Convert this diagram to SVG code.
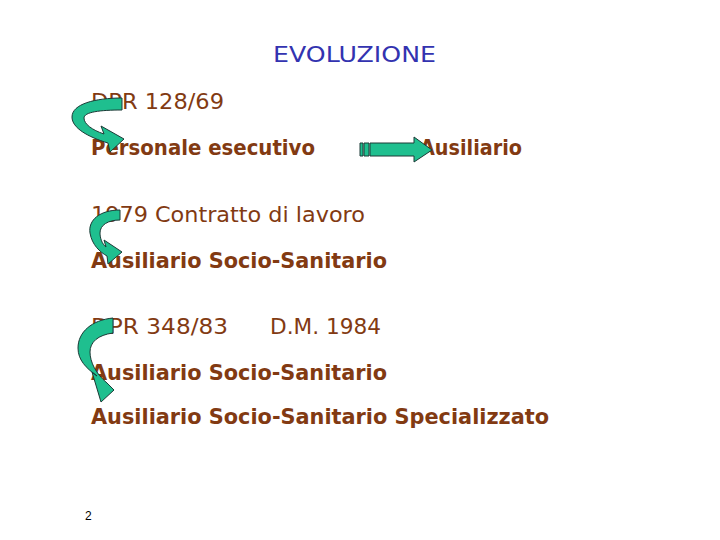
<svg xmlns="http://www.w3.org/2000/svg" width="720" height="540" viewBox="0 0 720 540">
<style>
.t{font-family:"Comic Sans MS","DejaVu Sans",sans-serif;font-size:21px;fill:#823a12}
.b{font-weight:bold}
.h{font-family:"Comic Sans MS","DejaVu Sans",sans-serif;font-size:21px;fill:#3333b0}
.arr{fill:#1fbf8f;stroke:#1c3a36;stroke-width:1}
</style>
<rect width="720" height="540" fill="#fff"/>
<g id="title"><text class="h" x="273" y="62" textLength="163" lengthAdjust="spacingAndGlyphs">EVOLUZIONE</text></g>
<g id="n1"><text class="t" x="91" y="109" textLength="133" lengthAdjust="spacingAndGlyphs">DPR 128/69</text></g>
<g id="n2"><text class="t b" x="91" y="155" textLength="224" lengthAdjust="spacingAndGlyphs">Personale esecutivo</text></g>
<g id="n3"><text class="t b" x="420" y="155" textLength="102" lengthAdjust="spacingAndGlyphs">Ausiliario</text></g>
<g id="n4"><text class="t" x="91" y="222" textLength="274" lengthAdjust="spacingAndGlyphs">1979 Contratto di lavoro</text></g>
<g id="n5"><text class="t b" x="91" y="268" textLength="296" lengthAdjust="spacingAndGlyphs">Ausiliario Socio-Sanitario</text></g>
<g id="n6"><text class="t" x="91" y="334" textLength="137" lengthAdjust="spacingAndGlyphs">DPR 348/83</text><text class="t" x="270" y="334" textLength="111" lengthAdjust="spacingAndGlyphs">D.M. 1984</text></g>
<g id="n7"><text class="t b" x="91" y="380" textLength="296" lengthAdjust="spacingAndGlyphs">Ausiliario Socio-Sanitario</text></g>
<g id="n8"><text class="t b" x="91" y="424" textLength="458" lengthAdjust="spacingAndGlyphs">Ausiliario Socio-Sanitario Specializzato</text></g>
<g id="page"><text x="85" y="520" font-family="Liberation Sans, sans-serif" font-size="12" fill="#000">2</text></g>
<g id="connectors">
<path class="arr" d="M122,98 C95,98 72,104 72,117 C72,128 88,137 108,143 L110,152 L124,139 L101,126 L104,134 C92,130 84,124 84,118 C84,112 100,110 122,110 Z"/>
<path class="arr" d="M360,143 h3 v13 h-3 Z M364,143 h5 v13 h-5 Z M370,143 H414 V137 L432,150 L414,162 V156 H370 Z"/>
<path class="arr" d="M120,210 C100,210 88,220 90,233 C92,245 100,252 107,256 L108,264 L122,252 L104,240 L106,247 C102,244 100,238 100,233 C100,225 108,220 120,220 Z"/>
<path class="arr" d="M113,318 C92,320 78,332 78,348 C78,360 86,368 97,376 L92,372 L101,402 L114,390 L107,383 C96,374 90,362 90,352 C90,342 98,335 113,333 Z"/>
</g>
</svg>
